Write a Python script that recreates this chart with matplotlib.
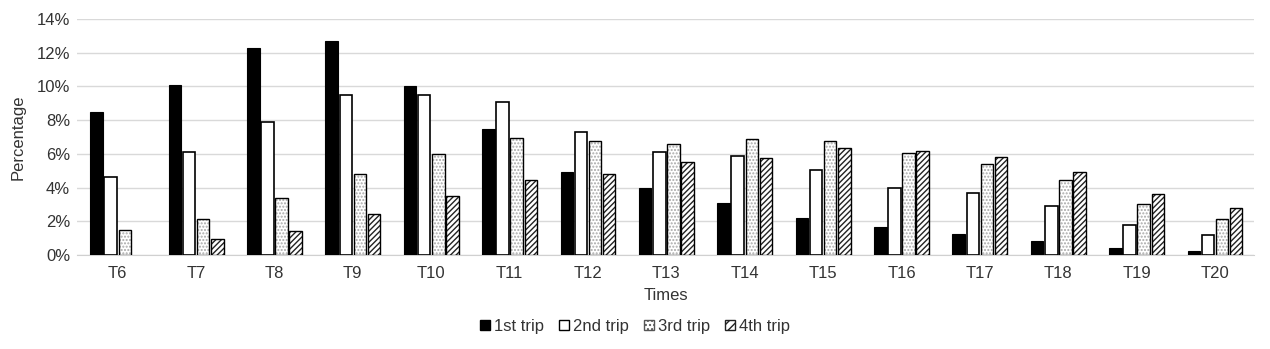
import numpy as np
import matplotlib.pyplot as plt
from matplotlib.patches import Patch
from matplotlib.ticker import PercentFormatter

plt.rcParams['font.family'] = ['Liberation Sans', 'DejaVu Sans']

times = ['T6', 'T7', 'T8', 'T9', 'T10', 'T11', 'T12', 'T13', 'T14',
         'T15', 'T16', 'T17', 'T18', 'T19', 'T20']
trip1 = [8.5, 10.1, 12.3, 12.7, 10.0, 7.5, 4.9, 4.0, 3.1, 2.2, 1.65, 1.25, 0.83, 0.44, 0.26]
trip2 = [4.65, 6.1, 7.9, 9.5, 9.5, 9.1, 7.3, 6.1, 5.9, 5.07, 4.0, 3.68, 2.94, 1.79, 1.17]
trip3 = [1.5, 2.14, 3.4, 4.83, 5.97, 6.94, 6.78, 6.59, 6.9, 6.78, 6.03, 5.37, 4.44, 3.02, 2.15]
trip4 = [0, 0.93, 1.44, 2.45, 3.48, 4.44, 4.81, 5.51, 5.77, 6.33, 6.19, 5.83, 4.91, 3.64, 2.82]
series = ['1st trip', '2nd trip', '3rd trip', '4th trip']

fig = plt.figure(figsize=(12.7, 3.49), dpi=100)
ax = fig.add_axes([0.0606, 0.269, 0.927, 0.677])

x = np.arange(len(times))
step = 0.18
w = 0.16
offs = (np.arange(4) - 1.5) * step

ax.bar(x + offs[0], trip1, w, color='black', edgecolor='black', linewidth=0.8, zorder=3)
ax.bar(x + offs[1], trip2, w, color='white', edgecolor='black', linewidth=1.2, zorder=3)
# hatched bars: hatch drawn in its own colour, then outline on top
ax.bar(x + offs[2], trip3, w, color='white', edgecolor='#a8a8a8', hatch='.....', linewidth=0, zorder=3)
ax.bar(x + offs[2], trip3, w, color='none', edgecolor='black', linewidth=1.0, zorder=4)
ax.bar(x + offs[3], trip4, w, color='white', edgecolor='#222222', hatch='//////', linewidth=0, zorder=3)
h4 = [v if v > 0 else np.nan for v in trip4]
ax.bar(x + offs[3], h4, w, color='none', edgecolor='black', linewidth=1.0, zorder=4)

ax.set_xlim(-0.52, 14.5)
ax.set_ylim(0, 14)
ax.set_yticks(np.arange(0, 15, 2))
ax.yaxis.set_major_formatter(PercentFormatter(decimals=0))
ax.set_xticks(x)
ax.set_xticklabels(times)
ax.grid(axis='y', color='#d9d9d9', linewidth=1, zorder=0)
for s in ['top', 'right', 'left']:
    ax.spines[s].set_visible(False)
ax.spines['bottom'].set_color('#d0d0d0')
ax.tick_params(axis='both', length=0, labelsize=12, colors='#333333', pad=8)
ax.tick_params(axis='y', pad=5)
ax.set_xlabel('Times', fontsize=12, color='#333333', labelpad=5)
ax.set_ylabel('Percentage', fontsize=12, color='#333333', labelpad=8)

handles = [Patch(facecolor='black', edgecolor='black'),
           Patch(facecolor='white', edgecolor='black'),
           Patch(facecolor='white', edgecolor='#555555', hatch='....'),
           Patch(facecolor='white', edgecolor='#222222', hatch='////')]
fig.legend(handles, series, loc='center', bbox_to_anchor=(0.5, 0.065), ncol=4,
           frameon=False, fontsize=12, handlelength=0.6, handleheight=0.6,
           handletextpad=0.25, columnspacing=0.9, labelcolor='#333333')

fig.savefig('out.png', dpi=100)
